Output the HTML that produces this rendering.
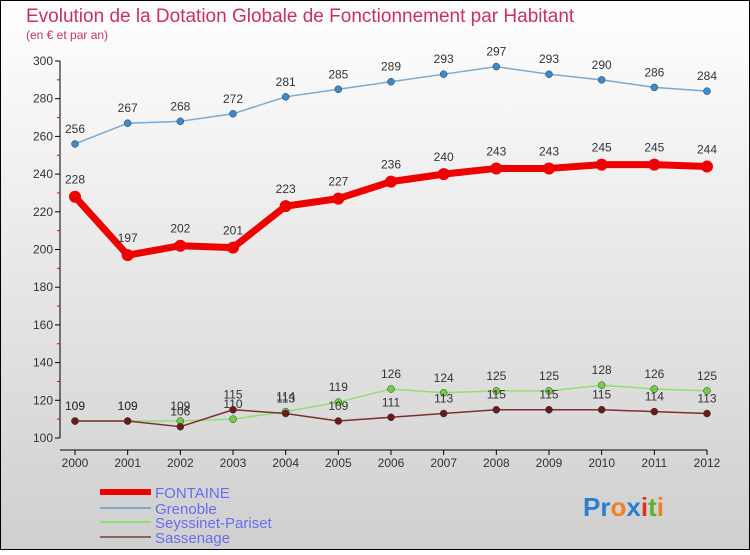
<!DOCTYPE html>
<html><head><meta charset="utf-8"><style>
body{margin:0}
#c{width:750px;height:550px;position:relative;font-family:"Liberation Sans",sans-serif}
</style></head><body>
<div id="c">
<svg id="s" width="750" height="550" xmlns="http://www.w3.org/2000/svg">
<defs><linearGradient id="bg" x1="0" y1="0" x2="0" y2="1"><stop offset="0" stop-color="#ffffff"/><stop offset="1" stop-color="#cfcfcf"/></linearGradient></defs>
<rect x="0.5" y="0.5" width="749" height="549" fill="url(#bg)" stroke="#000"/>
<text x="26" y="22" font-size="19" fill="#c8325a">Evolution de la Dotation Globale de Fonctionnement par Habitant</text>
<text x="26" y="39" font-size="12" fill="#c8325a">(en € et par an)</text>
<g id="axes"></g><g id="series"></g>
<g>
<line x1="100" y1="492" x2="151" y2="492" stroke="#e00" stroke-width="6"/>
<text x="155" y="498" font-size="15" fill="#6b6bf0">FONTAINE</text>
<line x1="100" y1="508" x2="151" y2="508" stroke="#7aa9d0" stroke-width="2"/>
<text x="155" y="514" font-size="15" fill="#6b6bf0">Grenoble</text>
<line x1="100" y1="522" x2="151" y2="522" stroke="#90e070" stroke-width="2"/>
<text x="155" y="528" font-size="15" fill="#6b6bf0">Seyssinet-Pariset</text>
<line x1="100" y1="537" x2="151" y2="537" stroke="#906060" stroke-width="2"/>
<text x="155" y="543" font-size="15" fill="#6b6bf0">Sassenage</text>
</g>
<text x="583" y="516" font-size="26" font-weight="bold"><tspan fill="#2a7fd0">Pr</tspan><tspan fill="#f08020">o</tspan><tspan fill="#2a7fd0">x</tspan><tspan fill="#e03020">i</tspan><tspan fill="#60b030">t</tspan><tspan fill="#f08020">i</tspan></text>
</svg>
</div>
<script>
const years=[2000,2001,2002,2003,2004,2005,2006,2007,2008,2009,2010,2011,2012];
const yTicks=[100,120,140,160,180,200,220,240,260,280,300];
const fontaine=[228,197,202,201,223,227,236,240,243,243,245,245,244];
const grenoble=[256,267,268,272,281,285,289,293,297,293,290,286,284];
const seyssinet=[109,109,109,110,114,119,126,124,125,125,128,126,125];
const sassenage=[109,109,106,115,113,109,111,113,115,115,115,114,113];
const NS="http://www.w3.org/2000/svg";
function xS(i){return 75+i*(707-75)/(years.length-1);}
function yS(v){return 438-(v-100)*(438-61)/200;}
function mk(t,a,p){const e=document.createElementNS(NS,t);for(const k in a)e.setAttribute(k,a[k]);p.appendChild(e);return e;}
const ax=document.getElementById('axes');
let l=mk('line',{x1:60,y1:61,x2:60,y2:438,stroke:'#000'},ax);


l=mk('line',{x1:60,y1:450,x2:707,y2:450,stroke:'#000'},ax);


yTicks.forEach((v,k)=>{
 const y=yS(v);
 mk('line',{x1:55,y1:y,x2:60,y2:y,stroke:'#000'},ax);
 if(k<yTicks.length-1) mk('line',{x1:57,y1:yS(v+10),x2:60,y2:yS(v+10),stroke:'#e00'},ax);
 const t=mk('text',{x:53,y:y+4,'font-size':12,fill:'#333','text-anchor':'end'},ax);t.textContent=v;
 
 
});
years.forEach((yr,i)=>{
 const x=xS(i);
 mk('line',{x1:x,y1:450,x2:x,y2:455,stroke:'#000'},ax);
 const t=mk('text',{x:x,y:467,'font-size':12,fill:'#333','text-anchor':'middle'},ax);t.textContent=yr;
 
 
});
const sg=document.getElementById('series');
function draw(data,name,col,w,r,dot,lblOff){
 const g=mk('g',{},sg);
 
 
 mk('polyline',{points:data.map((v,i)=>xS(i)+','+yS(v)).join(' '),fill:'none',stroke:col,'stroke-width':w,'stroke-linejoin':'round'},g);
 data.forEach((v,i)=>{
  const c=mk('circle',{cx:xS(i),cy:yS(v),r:r,fill:dot,stroke:'#333','stroke-width':r>5?0:0.5},g);
  
  
  const t=mk('text',{x:xS(i),y:yS(v)-lblOff,'font-size':12,fill:'#333','text-anchor':'middle'},g);t.textContent=v;
  
  
 });
}
draw(seyssinet,'seyssinet','#90e070',1.5,3.5,'#70d040',11);
draw(sassenage,'sassenage','#7a3030',1.5,3.5,'#6a1a1a',11);
draw(grenoble,'grenoble','#7aa9d0',1.5,3.5,'#3a8ad0',11);
draw(fontaine,'fontaine','#ee0000',7,6,'#ee0000',13);
</script>
</body></html>
